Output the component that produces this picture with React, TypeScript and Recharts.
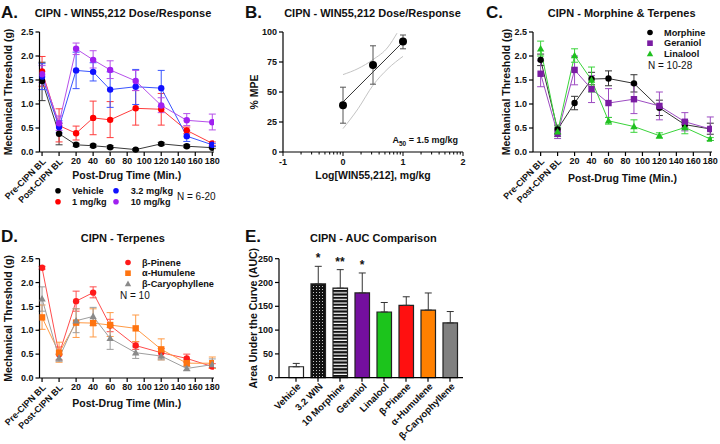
import React from "react";
import { ComposedChart, Line, Bar, Cell, Scatter, XAxis, YAxis, ErrorBar, Legend } from "recharts";

const FONT = "'Liberation Sans', Arial, Helvetica, sans-serif";
const INK = "#111";

// shared time course axis (the two baselines sit at -20 and 0)
const timePoints = [-20, 0, 20, 40, 60, 90, 120, 150, 180];
const timeTicks = [-20, 0, 20, 40, 60, 80, 100, 120, 140, 160, 180];
const baselineTicks = [-20, 0];
const baselineLabels = ["Pre-CIPN BL", "Post-CIPN BL"];
const thresholdTicks = [0, 0.5, 1, 1.5, 2, 2.5];

// A. WIN55,212 time course
const vehicleMean = [1.48, 0.38, 0.15, 0.13, 0.1, 0.05, 0.17, 0.12, 0.09];
const vehicleLo = [1.07, 0.15, 0.12, 0.1, 0.07, 0.03, 0.14, 0.09, 0.07];
const vehicleHi = [1.87, 0.6, 0.18, 0.16, 0.13, 0.07, 0.2, 0.15, 0.11];
const win1Mean = [1.68, 0.55, 0.39, 0.71, 0.67, 0.91, 0.89, 0.45, 0.18];
const win1Lo = [1.37, 0.21, 0.25, 0.36, 0.3, 0.56, 0.56, 0.38, 0.14];
const win1Hi = [1.99, 0.9, 0.54, 1.06, 1.05, 1.28, 1.22, 0.52, 0.21];
const win32Mean = [1.57, 0.52, 1.7, 1.67, 1.3, 1.36, 1.33, 0.33, 0.15];
const win32Lo = [1.3, 0.4, 1.32, 1.48, 0.93, 0.99, 0.95, 0.22, 0.12];
const win32Hi = [1.84, 0.65, 2.08, 1.86, 1.67, 1.72, 1.7, 0.45, 0.18];
const win10Mean = [1.62, 0.6, 2.15, 1.92, 1.71, 1.48, 0.97, 0.66, 0.62];
const win10Lo = [1.45, 0.45, 2.03, 1.75, 1.53, 1.28, 0.82, 0.55, 0.46];
const win10Hi = [1.8, 0.75, 2.27, 2.11, 1.9, 1.7, 1.13, 0.8, 0.79];

// B. dose/response
const logDose = [0, 0.5, 1];
const mpeMean = [39, 72.5, 92];
const mpeLo = [24, 56.5, 86];
const mpeHi = [54, 88.5, 97.5];
const fitX = [0, 1];
const fitY = [41.7, 91.7];
const bandUpperX = [0, 0.25, 0.5, 0.75, 0.9];
const bandUpperY = [64.5, 69.5, 77, 87.5, 99];
const bandLowerX = [0, 0.25, 0.5, 0.75, 1];
const bandLowerY = [19.5, 36, 55.6, 69.5, 79.7];
const mpeTicks = [0, 25, 50, 75, 100];
const logMajorTicks = [-1, 0, 1, 2];

// C. morphine & terpenes
const morphineMean = [1.92, 0.47, 1.02, 1.52, 1.53, 1.43, 0.92, 0.57, 0.48];
const morphineLo = [1.8, 0.38, 0.88, 1.4, 1.38, 1.25, 0.76, 0.5, 0.37];
const morphineHi = [2.04, 0.56, 1.16, 1.66, 1.69, 1.61, 1.08, 0.65, 0.6];
const geraniolMean = [1.63, 0.38, 1.71, 1.31, 1.02, 1.1, 0.96, 0.63, 0.48];
const geraniolLo = [1.36, 0.28, 1.4, 1.03, 0.72, 0.8, 0.67, 0.44, 0.24];
const geraniolHi = [1.9, 0.5, 2.0, 1.59, 1.32, 1.4, 1.25, 0.82, 0.73];
const linaloolMean = [2.15, 0.42, 2.01, 1.5, 0.65, 0.53, 0.34, 0.51, 0.27];
const linaloolLo = [2.0, 0.32, 1.87, 1.25, 0.58, 0.41, 0.29, 0.38, 0.24];
const linaloolHi = [2.31, 0.52, 2.15, 1.77, 0.72, 0.67, 0.4, 0.63, 0.3];

// D. terpenes
const pineneMean = [2.31, 0.5, 1.61, 1.79, 1.1, 0.68, 0.53, 0.41, 0.24];
const pineneLo = [2.28, 0.38, 1.4, 1.68, 0.97, 0.6, 0.44, 0.33, 0.2];
const pineneHi = [2.34, 0.65, 1.82, 1.91, 1.23, 0.76, 0.62, 0.5, 0.3];
const humuleneMean = [1.27, 0.53, 1.16, 1.15, 1.11, 1.04, 0.6, 0.31, 0.31];
const humuleneLo = [1.02, 0.33, 0.85, 0.86, 0.87, 0.76, 0.38, 0.25, 0.2];
const humuleneHi = [1.53, 0.75, 1.45, 1.45, 1.37, 1.32, 0.82, 0.38, 0.44];
const caryMean = [1.66, 0.42, 1.2, 1.29, 0.83, 0.53, 0.46, 0.2, 0.28];
const caryLo = [1.4, 0.35, 0.95, 1.1, 0.6, 0.41, 0.38, 0.16, 0.22];
const caryHi = [1.91, 0.5, 1.45, 1.48, 1.06, 0.65, 0.55, 0.24, 0.4];

// E. AUC
const aucCats = ["Vehicle", "3.2 WIN", "10 Morphine", "Geraniol", "Linalool", "β-Pinene", "α-Humulene", "β-Caryophyllene"];
const aucMean = [23, 197, 188, 178, 138, 152, 142, 115];
const aucTop = [30, 234, 227, 220, 158, 170, 178, 139];
const aucSig = ["", "*", "**", "*", "", "", "", ""];
const aucTicks = [0, 50, 100, 150, 200, 250];
const aucFills = ["#ffffff", "url(#aucDots)", "url(#aucStripes)", "#740f9f", "#1cc41c", "#ff1010", "#ff8000", "#808080"];

type Shape = "circle" | "square" | "triangle";
type Series = { key: string; name: string; mean: number[]; lo: number[]; hi: number[]; color: string; line: string; shape: Shape };

const seriesA: Series[] = [
  { key: "veh", name: "Vehicle", mean: vehicleMean, lo: vehicleLo, hi: vehicleHi, color: "#000", line: "#3a3a3a", shape: "circle" },
  { key: "w1", name: "1 mg/kg", mean: win1Mean, lo: win1Lo, hi: win1Hi, color: "#ff0000", line: "#ff3c3c", shape: "circle" },
  { key: "w32", name: "3.2 mg/kg", mean: win32Mean, lo: win32Lo, hi: win32Hi, color: "#1010ff", line: "#3a55ff", shape: "circle" },
  { key: "w10", name: "10 mg/kg", mean: win10Mean, lo: win10Lo, hi: win10Hi, color: "#a020f0", line: "#b650ea", shape: "circle" },
];
const seriesC: Series[] = [
  { key: "mor", name: "Morphine", mean: morphineMean, lo: morphineLo, hi: morphineHi, color: "#000", line: "#333", shape: "circle" },
  { key: "ger", name: "Geraniol", mean: geraniolMean, lo: geraniolLo, hi: geraniolHi, color: "#7a1ca2", line: "#9d4cc2", shape: "square" },
  { key: "lin", name: "Linalool", mean: linaloolMean, lo: linaloolLo, hi: linaloolHi, color: "#20c020", line: "#3ad43a", shape: "triangle" },
];
const seriesD: Series[] = [
  { key: "pin", name: "β-Pinene", mean: pineneMean, lo: pineneLo, hi: pineneHi, color: "#ff1a1a", line: "#ff4d4d", shape: "circle" },
  { key: "hum", name: "α-Humulene", mean: humuleneMean, lo: humuleneLo, hi: humuleneHi, color: "#ff7410", line: "#ff9a45", shape: "square" },
  { key: "car", name: "β-Caryophyllene", mean: caryMean, lo: caryLo, hi: caryHi, color: "#8a8a8a", line: "#9e9e9e", shape: "triangle" },
];

const axisStroke = { stroke: "#000", strokeWidth: 1.2 };
const tickFont = { fill: INK, fontSize: 9, fontWeight: 700, fontFamily: FONT };
const labelFont = { fill: INK, fontSize: 10.5, fontWeight: 700, fontFamily: FONT };

function Marker({ cx, cy, shape, fill, size = 3.2 }: { cx: number; cy: number; shape: Shape; fill: string; size?: number }) {
  if (cx == null || cy == null) return null;
  if (shape === "square") return <rect x={cx - size} y={cy - size} width={size * 2} height={size * 2} fill={fill} />;
  if (shape === "triangle")
    return <polygon points={`${cx},${cy - size * 1.2} ${cx + size * 1.15},${cy + size * 0.85} ${cx - size * 1.15},${cy + size * 0.85}`} fill={fill} />;
  return <circle cx={cx} cy={cy} r={size} fill={fill} />;
}

function TimeTick(props: any) {
  const { x, y, payload } = props;
  const i = baselineTicks.indexOf(payload.value);
  if (i >= 0) {
    const ax = x + 2;
    const ay = y + 2;
    return (
      <text x={ax} y={ay} dy="0.35em" textAnchor="end" transform={`rotate(-45 ${ax} ${ay})`} {...tickFont}>
        {baselineLabels[i]}
      </text>
    );
  }
  return (
    <text x={x} y={y} dy="0.71em" textAnchor="middle" {...tickFont}>
      {payload.value}
    </text>
  );
}

function TimeCourse({ series, domainMin, yAxisWidth, yLabelOffset, xAxisHeight, margin, legend }: any) {
  const rows = timePoints.map((t, i) => {
    const row: Record<string, any> = { t };
    series.forEach((s: Series) => {
      row[s.key] = s.mean[i];
      row[s.key + "Err"] = [s.mean[i] - s.lo[i], s.hi[i] - s.mean[i]];
    });
    return row;
  });
  return (
    <ComposedChart width={240} height={222} data={rows} margin={margin}>
      <XAxis
        dataKey="t"
        type="number"
        domain={[domainMin, 182]}
        ticks={timeTicks}
        interval={0}
        allowDataOverflow
        tick={<TimeTick />}
        tickSize={4}
        tickMargin={2}
        height={xAxisHeight}
        axisLine={axisStroke}
        tickLine={axisStroke}
        label={{ value: "Post-Drug Time (Min.)", position: "insideBottom", offset: 0, ...labelFont }}
      />
      <YAxis
        type="number"
        domain={[0, 2.5]}
        ticks={thresholdTicks}
        interval={0}
        width={yAxisWidth}
        tickFormatter={(v: number) => v.toFixed(1)}
        tick={tickFont}
        tickSize={4}
        tickMargin={2}
        axisLine={axisStroke}
        tickLine={axisStroke}
        label={{ value: "Mechanical Threshold (g)", angle: -90, position: "insideLeft", offset: yLabelOffset, style: { textAnchor: "middle" }, ...labelFont }}
      />
      {series.map((s: Series) => (
        <Line
          key={s.key}
          dataKey={s.key}
          stroke={s.line}
          strokeWidth={1}
          isAnimationActive={false}
          activeDot={false}
          dot={(p: any) => <Marker key={p.index} cx={p.cx} cy={p.cy} shape={s.shape} fill={s.color} />}
        >
          <ErrorBar dataKey={s.key + "Err"} direction="y" width={3.5} stroke={s.line} strokeWidth={1} isAnimationActive={false} />
        </Line>
      ))}
      {legend}
    </ComposedChart>
  );
}

function legendText(x: number, y: number, text: string) {
  return (
    <text x={x} y={y} dy="0.35em" fill={INK} fontSize={9.2} fontWeight={700} fontFamily={FONT}>
      {text}
    </text>
  );
}

function noteText(x: number, y: number, text: string) {
  return (
    <text x={x} y={y} dy="0.35em" fill={INK} fontSize={10} fontFamily={FONT}>
      {text}
    </text>
  );
}

// legend for A: two columns of two
const legendA = (
  <Legend
    layout="vertical"
    align="center"
    verticalAlign="middle"
    wrapperStyle={{ left: 48, top: 183, width: 175, height: 26 }}
    content={() => (
      <svg width={175} height={26} style={{ display: "block", overflow: "visible" }}>
        {seriesA.map((s, i) => {
          const col = Math.floor(i / 2);
          const row = i % 2;
          return (
            <g key={s.key}>
              <Marker cx={10 + col * 58} cy={7.7 + row * 11} shape={s.shape} fill={s.color} size={2.8} />
              {legendText(24 + col * 58.7, 7.7 + row * 11, s.name)}
            </g>
          );
        })}
        {noteText(129, 13, "N = 6-20")}
      </svg>
    )}
  />
);

function listLegend(series: Series[], note: string, left: number, top: number, noteX: number) {
  return (
    <Legend
      layout="vertical"
      align="center"
      verticalAlign="middle"
      wrapperStyle={{ left, top, width: 110, height: 46 }}
      content={() => (
        <svg width={110} height={46} style={{ display: "block", overflow: "visible" }}>
          {series.map((s, i) => (
            <g key={s.key}>
              <Marker cx={10} cy={6.5 + i * 10.7} shape={s.shape} fill={s.color} size={2.8} />
              {legendText(24, 6.5 + i * 10.7, s.name)}
            </g>
          ))}
          {noteText(noteX, 39.8, note)}
        </svg>
      )}
    />
  );
}

function LogTick({ x, y, payload }: any) {
  const axisY = y - 6;
  const major = logMajorTicks.includes(payload.value);
  return (
    <g>
      <line x1={x} x2={x} y1={axisY} y2={axisY + (major ? 4 : 2.5)} stroke="#000" strokeWidth={1} />
      {major && (
        <text x={x} y={axisY + 7} dy="0.71em" textAnchor="middle" {...tickFont}>
          {payload.value}
        </text>
      )}
    </g>
  );
}

function DoseResponse() {
  const logMinor = logMajorTicks.slice(0, -1).flatMap((d) => [2, 3, 4, 5, 6, 7, 8, 9].map((k) => d + Math.log10(k)));
  const logTicks = [...logMajorTicks, ...logMinor].sort((a, b) => a - b);
  const points = logDose.map((x, i) => ({ x, y: mpeMean[i], err: [mpeMean[i] - mpeLo[i], mpeHi[i] - mpeMean[i]] }));
  const fit = fitX.map((x, i) => ({ x, y: fitY[i] }));
  const upper = bandUpperX.map((x, i) => ({ x, y: bandUpperY[i] }));
  const lower = bandLowerX.map((x, i) => ({ x, y: bandLowerY[i] }));
  return (
    <ComposedChart width={240} height={222} margin={{ top: 32, right: 17, bottom: 43, left: 0 }}>
      <XAxis
        dataKey="x"
        type="number"
        domain={[-1, 2]}
        ticks={logTicks}
        interval={0}
        allowDataOverflow
        tick={<LogTick />}
        tickLine={false}
        tickSize={4}
        tickMargin={2}
        height={27}
        axisLine={axisStroke}
        label={{ value: "Log[WIN55,212], mg/kg", position: "insideBottom", offset: 0, ...labelFont }}
      />
      <YAxis
        type="number"
        domain={[0, 100]}
        ticks={mpeTicks}
        interval={0}
        width={43}
        tick={tickFont}
        tickSize={4}
        tickMargin={2}
        axisLine={axisStroke}
        tickLine={axisStroke}
        label={{ value: "% MPE", angle: -90, position: "insideLeft", offset: 14, style: { textAnchor: "middle" }, ...labelFont }}
      />
      <Line data={upper} dataKey="y" type="monotone" stroke="#c4c4c4" strokeWidth={1} dot={false} activeDot={false} isAnimationActive={false} />
      <Line data={lower} dataKey="y" type="monotone" stroke="#c4c4c4" strokeWidth={1} dot={false} activeDot={false} isAnimationActive={false} />
      <Line data={fit} dataKey="y" stroke="#333" strokeWidth={1} dot={false} activeDot={false} isAnimationActive={false} />
      <Scatter data={points} dataKey="y" isAnimationActive={false} shape={(p: any) => <circle cx={p.cx} cy={p.cy} r={4} fill="#000" />}>
        <ErrorBar dataKey="err" direction="y" width={3} stroke="#555" strokeWidth={1} isAnimationActive={false} />
      </Scatter>
    </ComposedChart>
  );
}

function AucTick({ x, y, payload }: any) {
  const ax = x + 3;
  const ay = y + 1;
  return (
    <text x={ax} y={ay} dy="0.35em" textAnchor="end" transform={`rotate(-45 ${ax} ${ay})`} {...tickFont} fontSize={9.5}>
      {payload.value}
    </text>
  );
}

function AucChart() {
  const rows = aucCats.map((name, i) => ({
    name,
    auc: aucMean[i],
    aucErr: [0, aucTop[i] - aucMean[i]],
    sigY: aucSig[i] ? aucTop[i] : null,
    sig: aucSig[i],
  }));
  return (
    <ComposedChart width={240} height={222} data={rows} margin={{ top: 36.7, right: 17, bottom: 56.3, left: 0 }}>
      <defs>
        <pattern id="aucDots" width="3" height="3" patternUnits="userSpaceOnUse">
          <rect width="3" height="3" fill="#111" />
          <circle cx="1.5" cy="1.5" r="0.5" fill="#fff" />
        </pattern>
        <pattern id="aucStripes" width="4" height="3.4" patternUnits="userSpaceOnUse">
          <rect width="4" height="3.4" fill="#111" />
          <rect y="2.2" width="4" height="1.2" fill="#fff" />
        </pattern>
      </defs>
      <XAxis
        dataKey="name"
        type="category"
        interval={0}
        padding={{ left: 6, right: 2 }}
        tick={<AucTick />}
        tickSize={4}
        tickMargin={2}
        height={10}
        axisLine={axisStroke}
        tickLine={axisStroke}
      />
      <YAxis
        type="number"
        domain={[0, 250]}
        ticks={aucTicks}
        interval={0}
        width={39}
        tick={tickFont}
        tickSize={4}
        tickMargin={2}
        axisLine={axisStroke}
        tickLine={axisStroke}
        label={{ value: "Area Under the Curve (AUC)", angle: -90, position: "insideLeft", offset: 13, style: { textAnchor: "middle" }, ...labelFont }}
      />
      <Bar dataKey="auc" barSize={14.5} stroke="#222" strokeWidth={1.2} isAnimationActive={false}>
        {rows.map((r, i) => (
          <Cell key={r.name} fill={aucFills[i]} />
        ))}
        <ErrorBar dataKey="aucErr" direction="y" width={3.5} stroke="#333" strokeWidth={1} isAnimationActive={false} />
      </Bar>
      <Line
        dataKey="sigY"
        stroke="none"
        isAnimationActive={false}
        activeDot={false}
        dot={(p: any) =>
          p.payload.sig && p.cy != null ? (
            <text key={p.index} x={p.cx} y={p.cy - 4} textAnchor="middle" fill={INK} fontSize={12} fontWeight={700} fontFamily={FONT}>
              {p.payload.sig}
            </text>
          ) : (
            <g key={p.index} />
          )
        }
      />
    </ComposedChart>
  );
}

const letterStyle: React.CSSProperties = { position: "absolute", fontSize: 17, fontWeight: 700, fontFamily: FONT, color: INK, lineHeight: "18px" };
const titleStyle: React.CSSProperties = { position: "absolute", width: 220, textAlign: "center", fontSize: 11, fontWeight: 700, fontFamily: FONT, color: INK, lineHeight: "12px", whiteSpace: "nowrap" };

export default function App() {
  return (
    <div style={{ position: "absolute", left: 0, top: 0, width: 720, height: 444, background: "#fff", overflow: "hidden" }}>
      <div style={{ position: "absolute", left: 0, top: 0 }}>
        <TimeCourse
          series={seriesA}
          domainMin={-23}
          yAxisWidth={39.5}
          yLabelOffset={8}
          xAxisHeight={27}
          margin={{ top: 32, right: 26, bottom: 43, left: 0 }}
          legend={legendA}
        />
      </div>
      <div style={{ position: "absolute", left: 240, top: 0 }}>
        <DoseResponse />
      </div>
      <div style={{ position: "absolute", left: 480, top: 0 }}>
        <TimeCourse
          series={seriesC}
          domainMin={-29}
          yAxisWidth={53}
          yLabelOffset={26}
          xAxisHeight={29.5}
          margin={{ top: 32, right: 8, bottom: 40.5, left: 0 }}
          legend={listLegend(seriesC, "N = 10-28", 160, 26, 8)}
        />
      </div>
      <div style={{ position: "absolute", left: 0, top: 222 }}>
        <TimeCourse
          series={seriesD}
          domainMin={-23}
          yAxisWidth={39.5}
          yLabelOffset={8}
          xAxisHeight={29}
          margin={{ top: 36.7, right: 26, bottom: 37, left: 0 }}
          legend={listLegend(seriesD, "N = 10", 118, 34, 2)}
        />
      </div>
      <div style={{ position: "absolute", left: 240, top: 222 }}>
        <AucChart />
      </div>

      <div style={{ ...letterStyle, left: 1, top: 4 }}>A.</div>
      <div style={{ ...titleStyle, left: 13, top: 7 }}>CIPN - WIN55,212 Dose/Response</div>
      <div style={{ ...letterStyle, left: 245, top: 4 }}>B.</div>
      <div style={{ ...titleStyle, left: 262.5, top: 7 }}>CIPN - WIN55,212 Dose/Response</div>
      <div style={{ ...letterStyle, left: 486, top: 4 }}>C.</div>
      <div style={{ ...titleStyle, left: 511.7, top: 7 }}>CIPN - Morphine &amp; Terpenes</div>
      <div style={{ ...letterStyle, left: 1, top: 228 }}>D.</div>
      <div style={{ ...titleStyle, left: 12.8, top: 232 }}>CIPN - Terpenes</div>
      <div style={{ ...letterStyle, left: 245, top: 228 }}>E.</div>
      <div style={{ ...titleStyle, left: 263.3, top: 232 }}>CIPN - AUC Comparison</div>

      <div style={{ position: "absolute", right: 720 - 458, top: 135, fontSize: 9, fontWeight: 700, fontFamily: FONT, color: INK, whiteSpace: "nowrap" }}>
        A<sub style={{ fontSize: 6.5 }}>50</sub> = 1.5 mg/kg
      </div>
    </div>
  );
}
